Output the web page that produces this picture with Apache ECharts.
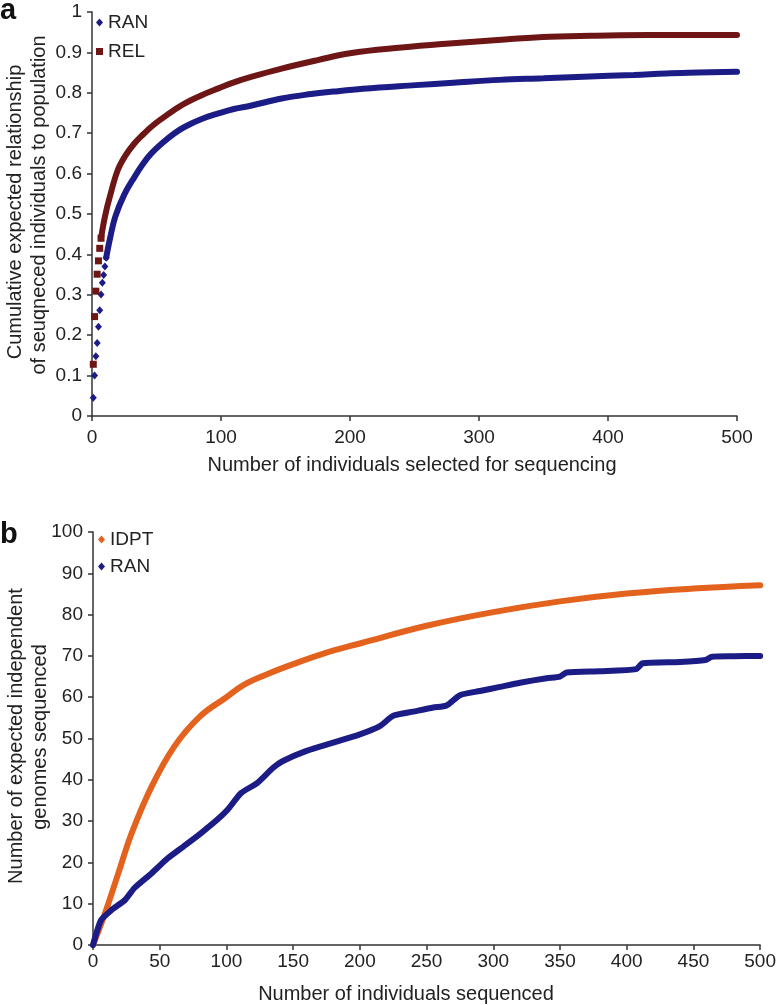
<!DOCTYPE html>
<html>
<head>
<meta charset="utf-8">
<script src="https://cdn.jsdelivr.net/npm/echarts@6/dist/echarts.min.js"></script>
<style>
html,body{margin:0;padding:0;background:#fff;}
#chart{width:779px;height:1005px;}
</style>
</head>
<body>
<div id="chart"></div>
<script>
// ---- Panel a data ----
const ranX = [1,2,3,4,5,6,7,8,9,10,11, 14,18,25,33,40,46,55,64,72,85,98,110,123,147,170,187,210,251,280,316,350,381,420,445,470,500];
const ranY = [0.045,0.10,0.148,0.181,0.221,0.262,0.301,0.33,0.349,0.37,0.392, 0.44,0.493,0.548,0.592,0.626,0.65,0.677,0.70,0.716,0.735,0.749,0.76,0.768,0.786,0.797,0.803,0.81,0.819,0.825,0.832,0.836,0.84,0.844,0.848,0.85,0.852];
const relX = [1,2,3,4,5,6,7, 10,14,20,26,33,40,46,55,64,72,85,98,110,124,147,175,200,240,277,320,355,400,432,470,500];
const relY = [0.128,0.246,0.309,0.351,0.384,0.415,0.44, 0.493,0.545,0.609,0.645,0.675,0.698,0.716,0.738,0.758,0.774,0.794,0.811,0.826,0.84,0.86,0.881,0.898,0.912,0.922,0.932,0.939,0.942,0.943,0.943,0.943];
const ranDiscrete = 11;   // first points drawn as separate markers
const relDiscrete = 7;

// ---- Panel b data ----
const idptX = [0,9,19,29,44,61,80,100,113,130,150,175,200,250,300,350,400,450,500];
const idptY = [0,7.7,17.4,27.1,38.4,48.1,55.3,60,63,65.5,68,70.8,73,77.3,80.6,83.2,85.1,86.3,87.1];
const ranBX = [0,6,14,24,31,44,56,68,81,93,101,111,123,135,142,160,180,200,215,225,240,255,265,275,290,305,320,340,350,355,380,407,412,440,459,464,480,500];
const ranBY = [0,6,8.5,10.9,13.8,17.4,21,23.9,27.1,30.3,32.8,36.8,39.2,42.9,44.5,47,49,51,53,55.5,56.5,57.5,58,60.5,61.5,62.5,63.5,64.6,65,66,66.3,66.8,68.2,68.5,69,69.8,69.9,70];

// ---- Text ----
const panelLabels = ['a','b'];
const xTitleA = 'Number of individuals selected for sequencing';
const yTitleA = ['Cumulative expected relationship','of seuqneced individuals to population'];
const xTitleB = 'Number of individuals sequenced';
const yTitleB = ['Number of expected independent','genomes sequenced'];

const NAVY = '#1c1c86', MAROON = '#6e1616', ORANGE = '#e2621e';
const FONT = '"Liberation Sans", Arial, Helvetica, sans-serif';
const TXT = '#222';

function pairs(xs, ys, from, to){ return xs.slice(from, to).map((x,i)=>[x, ys[from+i]]); }

const axisCommon = {
  axisLine:{show:true, onZero:false, lineStyle:{color:'#333', width:1.5}},
  axisTick:{show:true, inside:false, length:5, lineStyle:{color:'#333', width:1.5}},
  splitLine:{show:false},
  axisLabel:{color:TXT, fontSize:19, fontFamily:FONT}
};
const legendText = {fontSize:19, fontFamily:FONT, color:TXT};

const chart = echarts.init(document.getElementById('chart'), null, {renderer:'canvas'});
chart.setOption({
  animation:false,
  backgroundColor:'#fff',
  grid:[
    {left:92, top:12, width:645, height:404},
    {left:93, top:532, width:672, height:413}
  ],
  xAxis:[
    Object.assign({}, axisCommon, {gridIndex:0, type:'value', min:0, max:500, interval:100,
      axisLabel:Object.assign({}, axisCommon.axisLabel, {margin:12})}),
    Object.assign({}, axisCommon, {gridIndex:1, type:'value', min:0, max:500, interval:50,
      axisLabel:Object.assign({}, axisCommon.axisLabel, {margin:7})})
  ],
  yAxis:[
    Object.assign({}, axisCommon, {gridIndex:0, type:'value', min:0, max:1, interval:0.1,
      axisLabel:Object.assign({}, axisCommon.axisLabel, {margin:10, formatter:v=>String(+v.toFixed(1))})}),
    Object.assign({}, axisCommon, {gridIndex:1, type:'value', min:0, max:100, interval:10,
      axisLabel:Object.assign({}, axisCommon.axisLabel, {margin:10})})
  ],
  legend:[
    {data:[{name:'RAN', icon:'diamond'}], left:96, top:13, padding:0, itemWidth:7, itemHeight:8,
     textStyle:legendText, selectedMode:false},
    {data:[{name:'REL', icon:'rect'}], left:96, top:42, padding:0, itemWidth:7, itemHeight:7,
     textStyle:legendText, selectedMode:false},
    {data:[{name:'IDPT', icon:'diamond'}], left:98, top:530, padding:0, itemWidth:7, itemHeight:8,
     textStyle:legendText, selectedMode:false},
    {data:[{name:'RAN', icon:'diamond'}], left:98, top:557, padding:0, itemWidth:7, itemHeight:8,
     textStyle:legendText, selectedMode:false}
  ],
  series:[
    {name:'RAN', type:'scatter', xAxisIndex:0, yAxisIndex:0, symbol:'diamond', symbolSize:[7,8],
     itemStyle:{color:NAVY, opacity:1}, data:pairs(ranX, ranY, 0, ranDiscrete), z:3},
    {name:'RAN', type:'line', xAxisIndex:0, yAxisIndex:0, showSymbol:false, smooth:0.4,
     lineStyle:{color:NAVY, width:6, cap:'round'}, itemStyle:{color:NAVY},
     data:pairs(ranX, ranY, ranDiscrete-1, ranX.length), z:3},
    {name:'REL', type:'scatter', xAxisIndex:0, yAxisIndex:0, symbol:'rect', symbolSize:[7,7],
     itemStyle:{color:MAROON, opacity:1}, data:pairs(relX, relY, 0, relDiscrete), z:3},
    {name:'REL', type:'line', xAxisIndex:0, yAxisIndex:0, showSymbol:false, smooth:0.4,
     lineStyle:{color:MAROON, width:6, cap:'round'}, itemStyle:{color:MAROON},
     data:pairs(relX, relY, relDiscrete-1, relX.length), z:3},
    {name:'IDPT', type:'line', xAxisIndex:1, yAxisIndex:1, showSymbol:false, smooth:0.4,
     lineStyle:{color:ORANGE, width:6, cap:'round'}, itemStyle:{color:ORANGE},
     data:pairs(idptX, idptY, 0, idptX.length), z:3},
    {name:'RAN', type:'line', xAxisIndex:1, yAxisIndex:1, showSymbol:false, smooth:0.2,
     lineStyle:{color:NAVY, width:6, cap:'round'}, itemStyle:{color:NAVY},
     data:pairs(ranBX, ranBY, 0, ranBX.length), z:4}
  ],
  graphic:[
    {type:'text', x:0, y:11, style:{text:panelLabels[0], fontSize:29, fontWeight:'bold', fontFamily:FONT, fill:'#111', align:'left', verticalAlign:'middle'}},
    {type:'text', x:0, y:535, style:{text:panelLabels[1], fontSize:29, fontWeight:'bold', fontFamily:FONT, fill:'#111', align:'left', verticalAlign:'middle'}},
    {type:'text', x:412, y:465, style:{text:xTitleA, fontSize:20, fontFamily:FONT, fill:TXT, align:'center', verticalAlign:'middle'}},
    {type:'text', x:406, y:994, style:{text:xTitleB, fontSize:20, fontFamily:FONT, fill:TXT, align:'center', verticalAlign:'middle'}},
    {type:'text', x:15, y:212, rotation:Math.PI/2, style:{text:yTitleA[0], fontSize:20, fontFamily:FONT, fill:TXT, align:'center', verticalAlign:'middle'}},
    {type:'text', x:39, y:205, rotation:Math.PI/2, style:{text:yTitleA[1], fontSize:20, fontFamily:FONT, fill:TXT, align:'center', verticalAlign:'middle'}},
    {type:'text', x:16, y:736, rotation:Math.PI/2, style:{text:yTitleB[0], fontSize:20, fontFamily:FONT, fill:TXT, align:'center', verticalAlign:'middle'}},
    {type:'text', x:40, y:737, rotation:Math.PI/2, style:{text:yTitleB[1], fontSize:20, fontFamily:FONT, fill:TXT, align:'center', verticalAlign:'middle'}}
  ]
});
</script>
</body>
</html>
